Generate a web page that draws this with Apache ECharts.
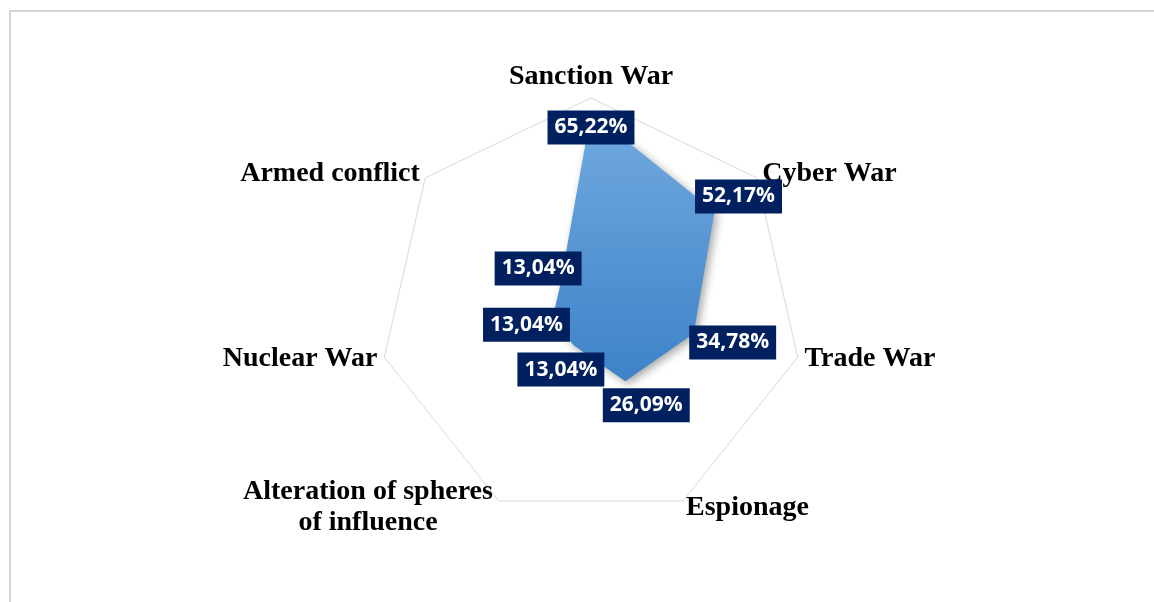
<!DOCTYPE html>
<html>
<head>
<meta charset="utf-8">
<script src="https://cdn.jsdelivr.net/npm/echarts@6/dist/echarts.min.js"></script>
<style>
  html, body { margin: 0; padding: 0; background: #fff; }
  #chart { width: 1154px; height: 602px; }
</style>
</head>
<body>
<div id="chart"></div>
<script>
// categories, clockwise from the top
const categories = ['Sanction War', 'Cyber War', 'Trade War', 'Espionage',
    'Alteration of spheres\nof influence', 'Nuclear War', 'Armed conflict'];
// share of answers, %
const shares = [65.22, 52.17, 34.78, 26.09, 13.04, 13.04, 13.04];
const axisMax = 70;

// where each data label box sits relative to its point (px)
const labelOffsets = [[0, 15], [24, -15], [39, 9], [21, 24], [-13, 24], [-26, 6], [-22, -17]];

const center = [591, 310];
const radius = 212;

const myChart = echarts.init(document.getElementById('chart'), null, { renderer: 'canvas' });

// radar goes counter-clockwise, so walk the list backwards from the top
const radarOrder = categories.map(function (c, k) { return (categories.length - k) % categories.length; });

function fmt(v) {
    return v.toFixed(2).replace('.', ',') + '%';
}

myChart.setOption({
    backgroundColor: '#fff',
    animation: false,
    graphic: [{
        type: 'polyline',
        shape: { points: [[10, 602], [10, 11], [1154, 11]] },
        style: { stroke: '#d4d4d4', lineWidth: 2, fill: null }
    }],
    radar: {
        center: center,
        radius: radius,
        startAngle: 90,
        splitNumber: 1,
        shape: 'polygon',
        nameGap: 7,
        indicator: radarOrder.map(function (i) {
            return { name: categories[i], min: 0, max: axisMax };
        }),
        axisName: {
            color: '#000',
            fontFamily: 'Liberation Serif',
            fontWeight: 'bold',
            fontSize: 28,
            formatter: function (name) {
                const lines = name.split('\n');
                if (lines.length < 2) return name;
                return lines.map(function (l) { return '{c|' + l + '}'; }).join('\n');
            },
            rich: {
                c: {
                    width: 256,
                    align: 'center',
                    color: '#000',
                    fontFamily: 'Liberation Serif',
                    fontWeight: 'bold',
                    fontSize: 28,
                    lineHeight: 31
                }
            }
        },
        axisLine: { show: false },
        axisTick: { show: false },
        axisLabel: { show: false },
        splitArea: { show: false },
        splitLine: { lineStyle: { color: '#d9d9d9', width: 1 } }
    },
    polar: {
        center: center,
        radius: radius
    },
    angleAxis: {
        type: 'value',
        min: 0,
        max: categories.length,
        startAngle: 90,
        clockwise: true,
        show: false
    },
    radiusAxis: {
        type: 'value',
        min: 0,
        max: axisMax,
        show: false
    },
    series: [
        {
            type: 'radar',
            symbol: 'none',
            lineStyle: { width: 0, opacity: 0 },
            areaStyle: {
                opacity: 1,
                color: new echarts.graphic.LinearGradient(0, 0, 0, 1, [
                    { offset: 0, color: '#72aae0' },
                    { offset: 1, color: '#3d82c8' }
                ]),
                shadowBlur: 8,
                shadowColor: 'rgba(0,0,0,0.35)',
                shadowOffsetX: 3,
                shadowOffsetY: 3
            },
            data: [{ value: radarOrder.map(function (i) { return shares[i]; }) }],
            z: 2
        },
        {
            // data labels (polar overlay with the same centre and scale)
            type: 'scatter',
            coordinateSystem: 'polar',
            symbolSize: 0,
            itemStyle: { opacity: 1 },
            z: 5,
            data: shares.map(function (v, i) {
                return {
                    value: [v, i],
                    label: { offset: labelOffsets[i] }
                };
            }),
            label: {
                show: true,
                position: 'inside',
                opacity: 1,
                formatter: function (p) { return fmt(p.value[0]); },
                color: '#fff',
                fontFamily: 'Open Sans',
                fontWeight: 'bold',
                fontSize: 21,
                backgroundColor: '#002060',
                padding: [7, 7, 6, 7]
            }
        }
    ]
});
</script>
</body>
</html>
